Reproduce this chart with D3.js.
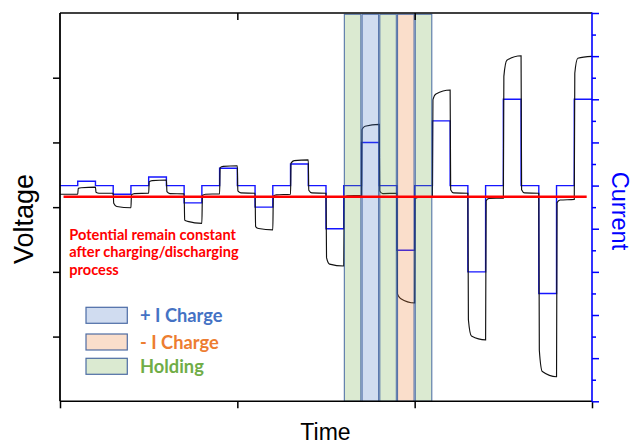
<!DOCTYPE html>
<html>
<head>
<meta charset="utf-8">
<script src="https://cdn.jsdelivr.net/npm/d3@7/dist/d3.min.js"></script>
<style>
  html, body { margin: 0; padding: 0; background: #fff; }
  svg { display: block; }
</style>
</head>
<body>
<svg id="chart" width="633" height="444"></svg>
<script>
// ---- data ---------------------------------------------------------------
// Start time of each current step (each step lasts 0.1 time units)
const stepTimes = [0.0, 0.1, 0.2, 0.3, 0.4, 0.5, 0.6, 0.7, 0.8, 0.9,
                   1.0, 1.1, 1.2, 1.3, 1.4, 1.5, 1.6, 1.7, 1.8, 1.9,
                   2.0, 2.1, 2.2, 2.3, 2.4, 2.5, 2.6, 2.7, 2.8, 2.9];
const stepLength = 0.1;

// Applied current for each step (right axis)
const current = [0, 0.1, 0, -0.2, 0, 0.2, 0, -0.4, 0, 0.4,
                 0, -0.5, 0, 0.5, 0, -1.0, 0, 1.0, 0, -1.5,
                 0, 1.5, 0, -2.0, 0, 2.0, 0, -2.5, 0, 2.0];

// Measured voltage in each step: right after the jump, once settled, at step end
const voltOnset  = [3.20, 3.29, 3.23, 3.06, 3.19, 3.39, 3.24, 2.80, 3.18, 3.61,
                    3.25, 2.70, 3.17, 3.68, 3.26, 2.22, 3.15, 4.20, 3.25, 1.66,
                    3.13, 4.66, 3.27, 1.26, 3.10, 5.02, 3.27, 0.79, 3.07, 5.07];
const voltSettle = [3.20, 3.30, 3.215, 3.01, 3.21, 3.41, 3.21, 2.78, 3.20, 3.63,
                    3.22, 2.67, 3.19, 3.72, 3.22, 2.12, 3.175, 4.25, 3.21, 1.59,
                    3.15, 4.75, 3.22, 1.01, 3.135, 5.27, 3.22, 0.46, 3.11, 5.30];
const voltEnd    = [3.20, 3.31, 3.215, 2.99, 3.215, 3.42, 3.205, 2.75, 3.205, 3.64,
                    3.215, 2.65, 3.20, 3.73, 3.215, 2.09, 3.18, 4.28, 3.215, 1.52,
                    3.15, 4.81, 3.215, 0.95, 3.14, 5.34, 3.215, 0.38, 3.12, 5.33];

// Highlighted phases of one charge/discharge cycle
const phaseStarts = [1.6, 1.7, 1.8, 1.9, 2.0];
const phaseKinds  = ["hold", "plus", "hold", "minus", "hold"];

// Rest potential reference line
const restLevel = 3.16;
const restSpan  = [0.02, 2.97];

const timeTicks    = [0, 1, 2, 3];
const voltageTicks = [1, 2, 3, 4, 5];
const currentTicks = [-5, -4.5, -4, -3.5, -3, -2.5, -2, -1.5, -1, -0.5,
                      0, 0.5, 1, 1.5, 2, 2.5, 3, 3.5, 4];

const legendKinds  = ["plus", "minus", "hold"];
const legendLabels = ["+ I Charge", "- I Charge", "Holding"];
const noteLines = ["Potential remain constant",
                   "after charging/discharging",
                   "process"];

// ---- styling ------------------------------------------------------------
const phaseColor = { plus: "#4472c4", minus: "#ed7d31", hold: "#70ad47" };

const svg = d3.select("#chart");
const plotLeft = 60, plotRight = 592, plotTop = 13, plotBottom = 401.3;

const x  = d3.scaleLinear().domain([0, 3]).range([plotLeft, plotRight]);
const yV = d3.scaleLinear().domain([0, 6]).range([plotBottom, plotTop]);
const yI = d3.scaleLinear().domain([-5, 4]).range([plotBottom, plotTop]);

// ---- traces -------------------------------------------------------------
const currentPts = current.map((c, i) => [stepTimes[i], c]);
currentPts.push([stepTimes[stepTimes.length - 1] + stepLength, current[current.length - 1]]);

svg.append("path")
  .datum(currentPts)
  .attr("fill", "none")
  .attr("stroke", "#1515ff")
  .attr("stroke-width", 1.4)
  .attr("d", d3.line().x(d => x(d[0])).y(d => yI(d[1])).curve(d3.curveStepAfter));

const voltPts = [];
stepTimes.forEach((t0, i) => {
  voltPts.push([i === 0 ? t0 : t0 + 0.003, voltOnset[i]]);
  voltPts.push([t0 + 0.02, voltSettle[i]]);
  voltPts.push([t0 + stepLength, voltEnd[i]]);
});

svg.append("path")
  .datum(voltPts)
  .attr("fill", "none")
  .attr("stroke", "#111")
  .attr("stroke-width", 1.15)
  .attr("d", d3.line().x(d => x(d[0])).y(d => yV(d[1])).curve(d3.curveMonotoneX));

// ---- phase bands (translucent overlays) ---------------------------------
svg.append("g").selectAll("rect")
  .data(phaseStarts.map((s, i) => ({ s, kind: phaseKinds[i] })))
  .join("rect")
  .attr("x", d => x(d.s) + 0.6)
  .attr("width", d => x(d.s + stepLength) - x(d.s) - 1.2)
  .attr("y", plotTop + 1.3)
  .attr("height", plotBottom - plotTop - 1.3)
  .attr("fill", d => phaseColor[d.kind])
  .attr("fill-opacity", 0.25)
  .attr("stroke", "#2f5597")
  .attr("stroke-opacity", 0.8)
  .attr("stroke-width", 1.1);

// ---- rest potential line ------------------------------------------------
svg.append("line")
  .attr("x1", x(restSpan[0])).attr("x2", x(restSpan[1]))
  .attr("y1", yV(restLevel)).attr("y2", yV(restLevel))
  .attr("stroke", "#ff0000")
  .attr("stroke-width", 2.4);

// ---- axes ---------------------------------------------------------------
const styleAxis = (g, color) => {
  g.select(".domain").remove();
  g.selectAll("text").remove();
  g.selectAll(".tick line").attr("stroke", color).attr("stroke-width", 1.5);
};

svg.append("g")
  .attr("transform", `translate(0,${plotBottom})`)
  .call(d3.axisBottom(x).tickValues(timeTicks).tickSize(7))
  .call(g => styleAxis(g, "#000"));

svg.append("g")
  .attr("transform", `translate(0,${plotTop})`)
  .call(d3.axisTop(x).tickValues(timeTicks.slice(1, -1)).tickSize(-7))
  .call(g => styleAxis(g, "#000"));

svg.append("g")
  .attr("transform", `translate(${plotLeft},0)`)
  .call(d3.axisLeft(yV).tickValues(voltageTicks).tickSize(7))
  .call(g => styleAxis(g, "#000"));

svg.append("g")
  .attr("transform", `translate(${plotRight},0)`)
  .call(d3.axisRight(yI).tickValues(currentTicks).tickSize(7))
  .call(g => styleAxis(g, "#0000ff"))
  .call(g => g.selectAll(".tick line")
    .attr("x2", d => Number.isInteger(d) ? 7 : 4));

// frame
svg.append("line").attr("x1", plotLeft).attr("x2", plotRight).attr("y1", plotTop).attr("y2", plotTop)
  .attr("stroke", "#000").attr("stroke-width", 1.6);
svg.append("line").attr("x1", plotLeft).attr("x2", plotRight).attr("y1", plotBottom).attr("y2", plotBottom)
  .attr("stroke", "#000").attr("stroke-width", 1.6);
svg.append("line").attr("x1", plotLeft).attr("x2", plotLeft).attr("y1", plotTop).attr("y2", plotBottom)
  .attr("stroke", "#000").attr("stroke-width", 1.8);
svg.append("line").attr("x1", plotRight).attr("x2", plotRight).attr("y1", plotTop - 0.5).attr("y2", plotBottom + 0.5)
  .attr("stroke", "#0000ff").attr("stroke-width", 1.6);

// ---- axis titles --------------------------------------------------------
svg.append("text")
  .attr("transform", `translate(33,219) rotate(-90)`)
  .attr("text-anchor", "middle")
  .attr("font-family", "Liberation Sans, Arial, sans-serif")
  .attr("font-size", 27)
  .attr("fill", "#000")
  .text("Voltage");

svg.append("text")
  .attr("transform", `translate(612,211) rotate(90)`)
  .attr("text-anchor", "middle")
  .attr("font-family", "Liberation Sans, Arial, sans-serif")
  .attr("font-size", 23.5)
  .attr("fill", "#0000ff")
  .text("Current");

svg.append("text")
  .attr("x", 325.5).attr("y", 440)
  .attr("text-anchor", "middle")
  .attr("font-family", "Liberation Sans, Arial, sans-serif")
  .attr("font-size", 23)
  .attr("fill", "#000")
  .text("Time");

// ---- annotation ---------------------------------------------------------
svg.append("text")
  .attr("font-family", "Lato, 'Open Sans', sans-serif")
  .attr("font-weight", 700)
  .attr("font-size", 14.6)
  .attr("fill", "#ff0000")
  .selectAll("tspan")
  .data(noteLines)
  .join("tspan")
  .attr("x", 69.3)
  .attr("y", (d, i) => 239.5 + i * 17.9)
  .text(d => d);

// ---- legend -------------------------------------------------------------
const legendRows = [315.3, 342, 366.3];
const legend = svg.append("g");
legendKinds.forEach((kind, i) => {
  legend.append("rect")
    .attr("x", 86).attr("y", legendRows[i] - 8)
    .attr("width", 41.3).attr("height", 16)
    .attr("fill", phaseColor[kind]).attr("fill-opacity", 0.25)
    .attr("stroke", "#2f5597").attr("stroke-opacity", 0.85)
    .attr("stroke-width", 1.2);
  legend.append("text")
    .attr("x", 140).attr("y", legendRows[i] + 6.6)
    .attr("font-family", "Lato, 'Open Sans', sans-serif")
    .attr("font-weight", 700)
    .attr("font-size", 18.3)
    .attr("fill", phaseColor[kind])
    .text(legendLabels[i]);
});
</script>
</body>
</html>
